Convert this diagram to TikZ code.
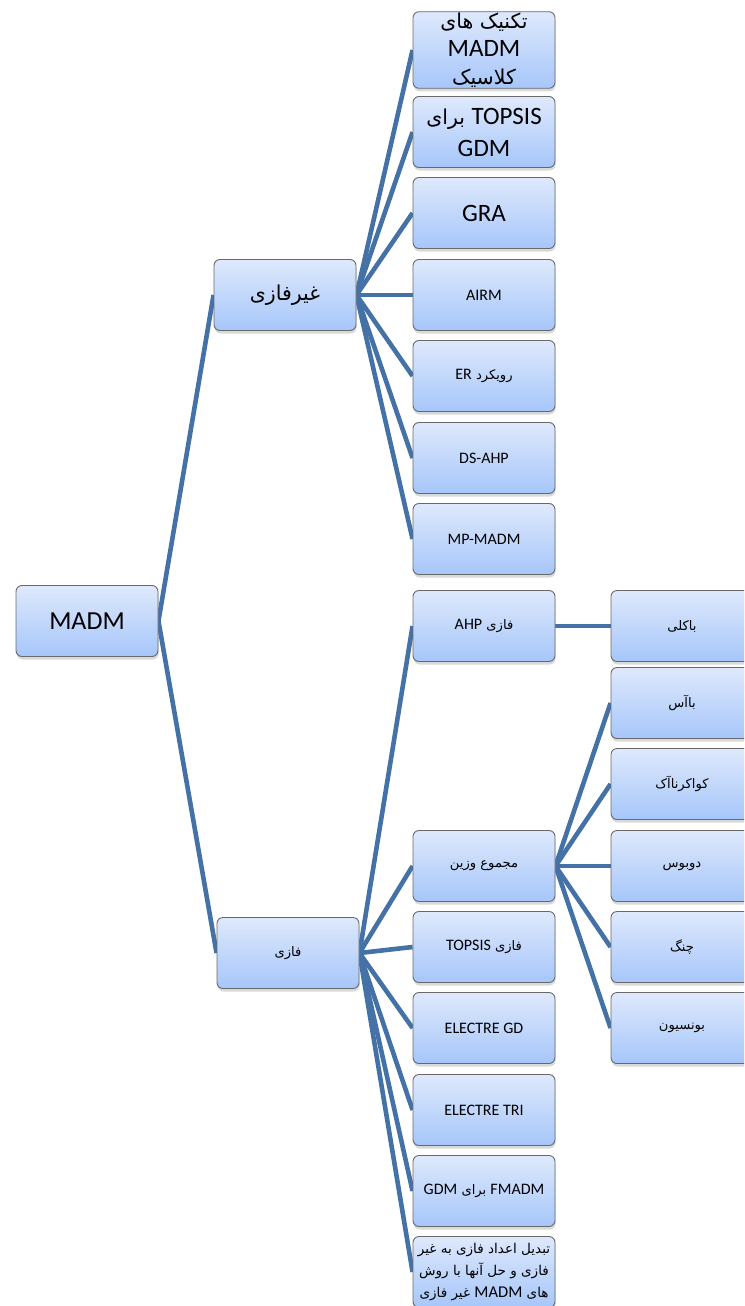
\documentclass[tikz,border=0pt]{standalone}
\usepackage{fontspec}
\setmainfont{Carlito}
\newfontfamily\arabicfont[Script=Arabic,Scale=0.82]{DejaVu Sans}
\TeXXeTstate=1
\usetikzlibrary{shadows}
\definecolor{linkblue}{RGB}{68,114,166}
\definecolor{boxtop}{RGB}{222,233,252}
\definecolor{boxbot}{RGB}{166,198,250}
\definecolor{boxedge}{RGB}{105,105,105}
% Persian run (right to left) and embedded Latin run
\newcommand\fa[1]{{\arabicfont\beginR #1\endR}}
\newcommand\en[1]{\beginL{\normalfont #1}\endL}
\pgfdeclarelayer{links}
\pgfsetlayers{links,main}
\begin{document}
\begin{tikzpicture}[x=1pt,y=-1pt,
  item/.style={draw=boxedge, line width=0.9pt, rounded corners=6pt,
    minimum width=142pt, minimum height=71pt,
    top color=boxtop, bottom color=boxbot,
    drop shadow={shadow xshift=0.6pt, shadow yshift=-3pt, opacity=0.3},
    align=center, inner sep=1pt, font=\fontsize{16}{19}\selectfont},
  big/.style={font=\fontsize{25}{28}\selectfont},
  tiny/.style={font=\fontsize{16.5}{22}\selectfont},
  link/.style={draw=linkblue, line width=4.6pt}]
\useasboundingbox (0,0) rectangle (744,1306);
\clip (0,0) rectangle (744,1306);

% root and first level
\node[item,font=\fontsize{26}{30}\selectfont] (root) at (87,621) {MADM};
\node[item,big] (gf) at (285,295) {\fa{غیرفازی}};
\node[item] (fz) at (288,953) {\fa{فازی}};

% crisp methods
\node[item,big] (n1) at (484,50) {\fa{تکنیک های}\\\en{MADM}\\\fa{کلاسیک}};
\node[item,big] (n2) at (484,132) {\fa{\en{TOPSIS} برای}\\[4pt]GDM};
\node[item,big] (n3) at (484,213) {GRA};
\node[item] (n4) at (484,295) {AIRM};
\node[item] (n5) at (484,376) {\fa{رویکرد \en{ER}}};
\node[item] (n6) at (484,458) {DS-AHP};
\node[item] (n7) at (484,539) {MP-MADM};

% fuzzy methods
\node[item] (a1) at (484,626) {\fa{فازی \en{AHP}}};
\node[item] (a2) at (484,866) {\fa{مجموع وزین}};
\node[item] (a3) at (484,947) {\fa{فازی \en{TOPSIS}}};
\node[item] (a4) at (484,1028) {ELECTRE GD};
\node[item] (a5) at (484,1110) {ELECTRE TRI};
\node[item] (a6) at (484,1191) {\fa{\en{FMADM} برای \en{GDM}}};
\node[item,tiny] (a7) at (484,1272) {\fa{تبدیل اعداد فازی به غیر}\\\fa{فازی و حل آنها با روش}\\\fa{های \en{MADM} غیر فازی}};

% authors
\node[item] (b1) at (682,626) {\fa{باکلی}};
\node[item] (b2) at (682,703) {\fa{باآس}};
\node[item] (b3) at (682,784) {\fa{کواکرناآک}};
\node[item] (b4) at (682,866) {\fa{دوبوس}};
\node[item] (b5) at (682,947) {\fa{چنگ}};
\node[item] (b6) at (682,1028) {\fa{بونسیون}};

\begin{pgfonlayer}{links}
  \draw[link] (root.east) -- (gf.west);
  \draw[link] (root.east) -- (fz.west);
  \foreach \c in {n1,n2,n3,n4,n5,n6,n7}
    \draw[link] (gf.east) -- (\c.west);
  \foreach \c in {a1,a2,a3,a4,a5,a6,a7}
    \draw[link] (fz.east) -- (\c.west);
  \draw[link] (a1.east) -- (b1.west);
  \foreach \c in {b2,b3,b4,b5,b6}
    \draw[link] (a2.east) -- (\c.west);
\end{pgfonlayer}
\end{tikzpicture}
\end{document}
